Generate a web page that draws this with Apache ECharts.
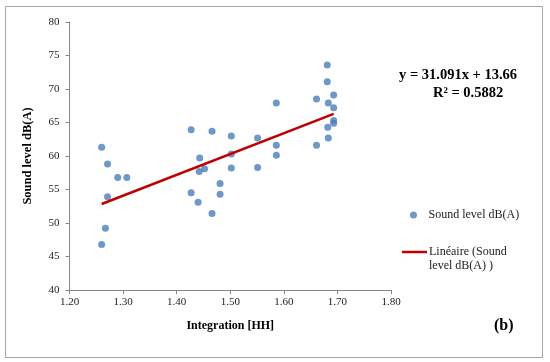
<!DOCTYPE html>
<html>
<head>
<meta charset="utf-8">
<script src="https://cdn.jsdelivr.net/npm/echarts@6/dist/echarts.min.js"></script>
<style>html,body{margin:0;padding:0;background:#fff}#c{width:550px;height:362px}</style>
</head>
<body>
<div id="c"></div>
<script>
const integrationHH = [1.260,1.271,1.290,1.307,1.271,1.267,1.260,1.427,1.466,1.502,1.443,1.502,1.502,1.442,1.452,1.427,1.440,1.466,1.481,1.481,1.551,1.551,1.586,1.586,1.586,1.661,1.661,1.681,1.681,1.693,1.683,1.693,1.693,1.693,1.682,1.683];
const soundLevel   = [61.3,58.8,56.8,56.8,53.9,49.2,46.8,63.9,63.7,63.0,59.7,60.3,58.2,57.7,58.1,54.5,53.1,51.4,55.9,54.3,62.7,58.3,67.9,61.6,60.1,68.5,61.6,73.6,71.1,69.1,67.9,67.2,65.3,64.9,64.3,62.7];
const trendSlope = 31.091, trendIntercept = 13.66;
const xTicks = [1.2,1.8];
const seriesName = 'Sound level dB(A)';
const trendName = 'Linéaire (Sound level dB(A) )';

const pts = integrationHH.map((x,i)=>[x, soundLevel[i]]);
const xmin = Math.min(...integrationHH), xmax = Math.max(...integrationHH);
const trend = [[xmin, trendSlope*xmin+trendIntercept],[xmax, trendSlope*xmax+trendIntercept]];

const serif = '"Liberation Serif","Times New Roman",serif';
const chart = echarts.init(document.getElementById('c'));
chart.setOption({
  animation:false,
  grid:{left:69.5,right:159,top:22,bottom:72},
  xAxis:{type:'value',min:xTicks[0],max:xTicks[1],interval:0.1,
    name:'Integration [HH]',nameLocation:'middle',nameGap:30,
    nameTextStyle:{fontFamily:serif,fontWeight:'bold',fontSize:12,color:'#000'},
    axisLine:{show:true,lineStyle:{color:'#868686'}},
    axisTick:{show:true,length:4,lineStyle:{color:'#868686'}},
    splitLine:{show:false},
    axisLabel:{fontFamily:serif,fontSize:11,color:'#222',margin:7,formatter:v=>v.toFixed(2)}},
  yAxis:{type:'value',min:40,max:80,interval:5,
    name:'Sound level dB(A)',nameLocation:'middle',nameGap:35,nameRotate:90,
    nameTextStyle:{fontFamily:serif,fontWeight:'bold',fontSize:12.5,color:'#000'},
    axisLine:{show:true,lineStyle:{color:'#868686'}},
    axisTick:{show:true,length:4,lineStyle:{color:'#868686'}},
    splitLine:{show:false},
    axisLabel:{fontFamily:serif,fontSize:11,color:'#222',margin:10}},
  legend:[
    {data:[{name:seriesName,icon:'circle'}],left:405,top:204,itemWidth:20,itemHeight:7,
     textStyle:{fontFamily:serif,fontSize:12,color:'#222'}},
    {data:[{name:trendName,icon:'rect',itemStyle:{color:'#c00000'}}],left:397,top:226,itemWidth:25,itemHeight:2.5,
     formatter:()=> ' \nLinéaire (Sound\nlevel dB(A) )',
     textStyle:{fontFamily:serif,fontSize:12,color:'#222',lineHeight:14,padding:[0,0,0,-3]}}
  ],
  graphic:[
    {type:'rect',shape:{x:5.5,y:6.5,width:537,height:351},style:{fill:null,stroke:'#a6a6a6',lineWidth:1},silent:true,z:-1},
    {type:'text',left:399,top:68,style:{text:'y = 31.091x + 13.66',font:'bold 14.5px '+serif,fill:'#000'}},
    {type:'text',left:433,top:86,style:{text:'R² = 0.5882',font:'bold 14.5px '+serif,fill:'#000'}},
    {type:'text',left:494,top:318,style:{text:'(b)',font:'bold 16px '+serif,fill:'#000'}}
  ],
  series:[
    {name:seriesName,type:'scatter',data:pts,symbolSize:7,itemStyle:{color:'#4a7ebb'}},
    {name:trendName,type:'line',data:trend,symbol:'none',lineStyle:{color:'#c00000',width:2.5},itemStyle:{color:'#c00000'}}
  ]
});
</script>
</body>
</html>
